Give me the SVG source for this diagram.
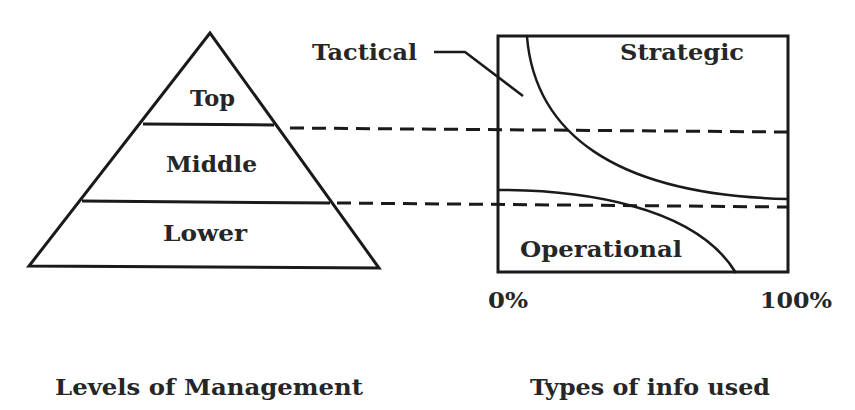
<svg xmlns="http://www.w3.org/2000/svg" width="855" height="410" viewBox="0 0 855 410">
  <defs>
    <linearGradient id="fadeLine" x1="0" y1="0" x2="1" y2="0">
      <stop offset="0" stop-color="#ffffff"/>
      <stop offset="0.4" stop-color="#bbbbbb"/>
      <stop offset="1" stop-color="#222222"/>
    </linearGradient>
  </defs>
  <style>
    .shape { fill: none; stroke: #1a1a1a; stroke-width: 3; stroke-linejoin: miter; }
    .curve { fill: none; stroke: #1a1a1a; stroke-width: 2.5; }
    .dash { fill: none; stroke: #1a1a1a; stroke-width: 3; stroke-dasharray: 14 8; }
    .lbl { font-family: "DejaVu Serif", "Liberation Serif", serif; font-weight: bold; font-size: 23px; fill: #262626; }
  </style>
  <rect width="855" height="410" fill="#ffffff"/>
  <line x1="630" y1="10" x2="855" y2="10" stroke="url(#fadeLine)" stroke-width="2"/>

  <g id="pyramid">
    <polygon class="shape" points="210,33 29,266 379,268"/>
    <line class="shape" x1="143" y1="124" x2="274" y2="125"/>
    <line class="shape" x1="82" y1="201" x2="330" y2="203"/>
    <text class="lbl" x="190" y="106" textLength="45" lengthAdjust="spacingAndGlyphs">Top</text>
    <text class="lbl" x="166" y="172" textLength="91" lengthAdjust="spacingAndGlyphs">Middle</text>
    <text class="lbl" x="163" y="241" textLength="84" lengthAdjust="spacingAndGlyphs">Lower</text>
  </g>

  <g id="chart">
    <rect class="shape" x="498" y="36" width="290" height="236"/>
    <text class="lbl" x="620" y="60" textLength="124" lengthAdjust="spacingAndGlyphs">Strategic</text>
    <text class="lbl" x="520" y="257" textLength="162" lengthAdjust="spacingAndGlyphs">Operational</text>
    <text class="lbl" x="488" y="308" textLength="40" lengthAdjust="spacingAndGlyphs">0%</text>
    <text class="lbl" x="760" y="308" textLength="72" lengthAdjust="spacingAndGlyphs">100%</text>
  </g>

  <g id="tactical-label">
    <text class="lbl" x="312" y="60" textLength="105" lengthAdjust="spacingAndGlyphs">Tactical</text>
  </g>

  <g id="connectors">
    <line class="dash" x1="290" y1="128" x2="788" y2="132"/>
    <line class="dash" x1="337" y1="203" x2="788" y2="207"/>
    <path class="curve" d="M527,37 C535,130 610,195 788,199"/>
    <path class="curve" d="M498,190 C580,190 695,205 736,273"/>
    <polyline class="curve" points="434,52 465,52 523,96"/>
  </g>

  <g id="captions">
    <text class="lbl" x="55" y="395" textLength="308" lengthAdjust="spacingAndGlyphs">Levels of Management</text>
    <text class="lbl" x="530" y="395" textLength="240" lengthAdjust="spacingAndGlyphs">Types of info used</text>
  </g>
</svg>
